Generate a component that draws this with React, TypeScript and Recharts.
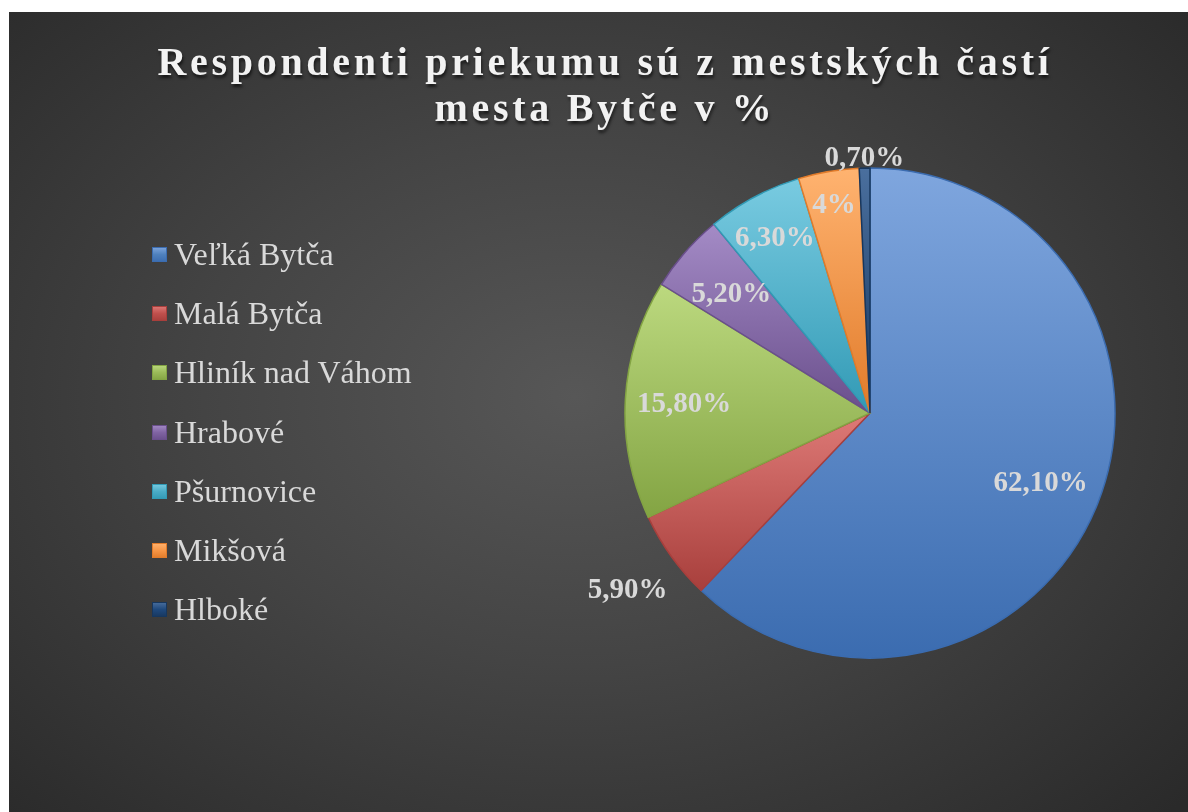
import { PieChart, Pie, Cell } from 'recharts';

const categories = ['Veľká Bytča', 'Malá Bytča', 'Hliník nad Váhom', 'Hrabové', 'Pšurnovice', 'Mikšová', 'Hlboké'];
const values = [62.1, 5.9, 15.8, 5.2, 6.3, 4, 0.7];
const valueLabels = ['62,10%', '5,90%', '15,80%', '5,20%', '6,30%', '4%', '0,70%'];

const colors = ['#4f81bd', '#c0504d', '#9bbb59', '#8064a2', '#4bacc6', '#f79646', '#1f497d'];
const lightColors = ['#7fa6de', '#de7a77', '#bcd97f', '#a48bc6', '#79cbe1', '#ffb370', '#4a6f9e'];
const darkColors = ['#3b6cb0', '#a83f3c', '#83a443', '#6a4f8c', '#329ab5', '#e17b2a', '#17375e'];
// distance of each data label from the centre, as a share of the radius
const labelRatio = [0.75, 1.22, 0.76, 0.75, 0.82, 0.87, 1.05];

const RADIAN = Math.PI / 180;

const data = categories.map((name, i) => ({ name, value: values[i], label: valueLabels[i] }));

const renderLabel = (props: any) => {
  const { cx, cy, midAngle, outerRadius, index } = props;
  const r = outerRadius * labelRatio[index];
  const x = cx + r * Math.cos(-midAngle * RADIAN);
  const y = cy + r * Math.sin(-midAngle * RADIAN);
  return (
    <text
      x={x}
      y={y}
      fill="#d9d9d9"
      textAnchor="middle"
      dominantBaseline="central"
      fontFamily="'Liberation Serif', serif"
      fontWeight="bold"
      fontSize={29}
    >
      {valueLabels[index]}
    </text>
  );
};

export default function App() {
  return (
    <div style={{ position: 'fixed', left: 0, top: 0, width: 1188, height: 812, background: '#fff' }}>
      <div
        style={{
          position: 'absolute',
          left: 9,
          top: 12,
          width: 1179,
          height: 800,
          background: 'radial-gradient(ellipse 70% 75% at 48% 48%, #575757 0%, #444 45%, #2a2a2a 100%)',
        }}
      >
        <div
          style={{
            position: 'absolute',
            left: 0,
            top: 27,
            width: 1192,
            textAlign: 'center',
            fontFamily: "'Liberation Serif', serif",
            fontWeight: 'bold',
            fontSize: 40,
            lineHeight: '46px',
            letterSpacing: 3.7,
            color: '#f2f2f2',
            textShadow: '1px 3px 3px rgba(0,0,0,0.6)',
          }}
        >
          Respondenti priekumu sú z mestských častí
          <br />
          mesta Bytče v %
        </div>
        <div
          style={{
            position: 'absolute',
            left: 143,
            top: 213,
            fontFamily: "'Liberation Serif', serif",
          }}
        >
          {categories.map((c, i) => (
            <div key={c} style={{ display: 'flex', alignItems: 'center', height: 59.2 }}>
              <div
                style={{
                  width: 15,
                  height: 15,
                  marginRight: 7,
                  background: `linear-gradient(180deg, ${lightColors[i]} 0%, ${colors[i]} 50%, ${darkColors[i]} 100%)`,
                  boxShadow: `inset 0 0 0 1px ${darkColors[i]}`,
                }}
              />
              <span style={{ color: '#d9d9d9', fontSize: 32 }}>{c}</span>
            </div>
          ))}
        </div>
        <PieChart
          width={1179}
          height={800}
          margin={{ top: 0, right: 0, bottom: 0, left: 0 }}
          style={{ position: 'absolute', left: 0, top: 0 }}
        >
          <defs>
            {colors.map((c, i) => (
              <linearGradient key={c} id={`grad${i}`} x1="0" y1="0" x2="0" y2="1">
                <stop offset="0%" stopColor={lightColors[i]} />
                <stop offset="100%" stopColor={darkColors[i]} />
              </linearGradient>
            ))}
          </defs>
          <Pie
            data={data}
            dataKey="value"
            nameKey="name"
            cx={861}
            cy={401}
            outerRadius={245}
            startAngle={90}
            endAngle={-270}
            label={renderLabel}
            labelLine={false}
            isAnimationActive={false}
          >
            {data.map((d, i) => (
              <Cell key={d.name} fill={`url(#grad${i})`} stroke={darkColors[i]} strokeWidth={1.5} />
            ))}
          </Pie>
        </PieChart>
      </div>
    </div>
  );
}
